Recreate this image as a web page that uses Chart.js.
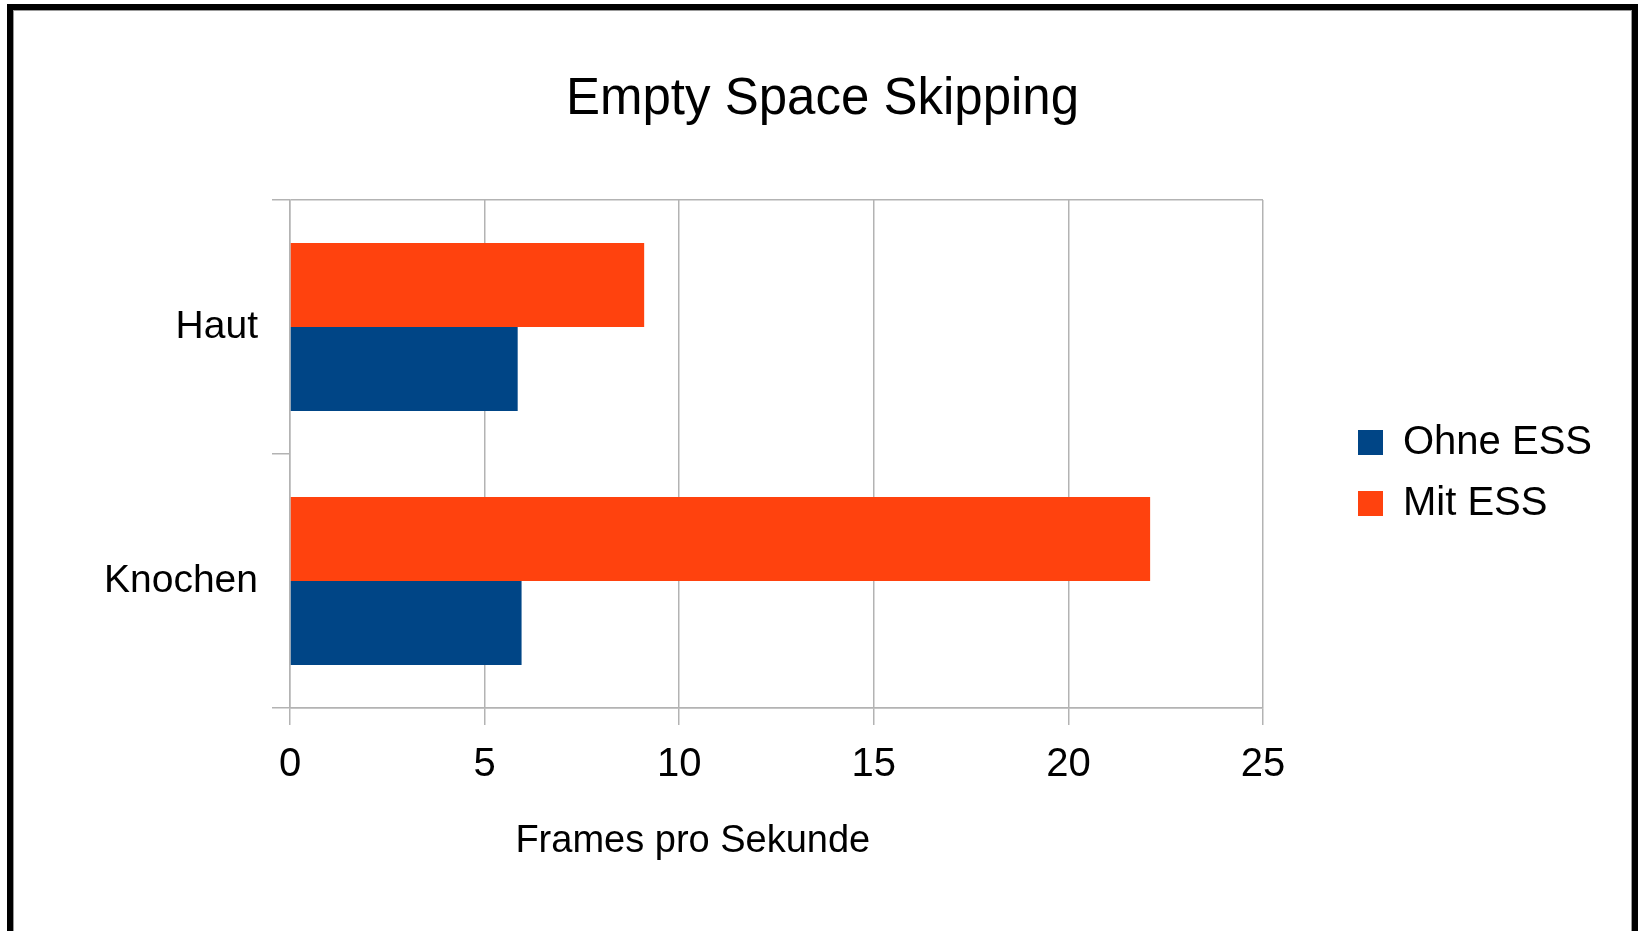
<!DOCTYPE html>
<html>
<head>
<meta charset="utf-8">
<script src="https://cdn.jsdelivr.net/npm/chart.js@4.4.1/dist/chart.umd.min.js"></script>
<style>
html,body{margin:0;padding:0;background:#fff;overflow:hidden}
#wrap{position:absolute;left:0;top:0;width:1638px;height:931px}
#frame{position:absolute;left:7px;top:4px;width:1631px;height:940px;box-sizing:border-box;border:6px solid #000;border-bottom:none;box-shadow:inset 1px 1px 0 #999,inset -1px 0 0 #999;pointer-events:none}
</style>
</head>
<body>
<div id="wrap"><canvas id="chart"></canvas></div>
<div id="frame"></div>
<script>
const categories = ["Haut", "Knochen"];
const ohneEss = [5.85, 5.95];
const mitEss = [9.1, 22.1];
const xTicks = [0, 5, 10, 15, 20, 25];

const FONT = "'Liberation Sans', Arial, sans-serif";
const GRID = "#b3b3b3";

// axis title sits left of the plot centre in the original, so draw it by hand
const axisTitle = {
  id: "axisTitle",
  afterDraw(chart){
    const {ctx, chartArea: a} = chart;
    ctx.save();
    ctx.font = "38px " + FONT;
    ctx.fillStyle = "#000";
    ctx.textAlign = "center";
    ctx.textBaseline = "alphabetic";
    ctx.fillText("Frames pro Sekunde", a.left + a.width * 0.414, a.bottom + 144);
    ctx.restore();
  }
};

// title centred on the whole frame, legend pushed away from the plot
const placeBoxes = {
  id: "placeBoxes",
  afterLayout(chart){
    const t = chart.titleBlock;
    t.left = 7; t.right = chart.width;
    const l = chart.legend, a = chart.chartArea;
    const dx = a.right + 74 - l.left;
    const dy = (a.top + a.bottom) / 2 + 19 - (l.top + l.bottom) / 2;
    l.left += dx; l.right += dx;
    l.top += dy; l.bottom += dy;
  }
};

new Chart(document.getElementById("chart"), {
  type: "bar",
  data: {
    labels: categories,
    datasets: [
      { label: "Mit ESS", data: mitEss, backgroundColor: "#ff420e" },
      { label: "Ohne ESS", data: ohneEss, backgroundColor: "#004586" }
    ]
  },
  options: {
    indexAxis: "y",
    responsive: true,
    maintainAspectRatio: false,
    animation: false,
    categoryPercentage: 0.662,
    barPercentage: 1,
    layout: { padding: { top: 0, left: 0, right: 110, bottom: 0 } },
    plugins: {
      title: {
        display: true,
        text: "Empty Space Skipping",
        color: "#000",
        font: { family: FONT, size: 51, weight: "normal", lineHeight: 1.2 },
        padding: { top: 69, bottom: 69.8 }
      },
      legend: {
        position: "right",
        fullSize: false,
        reverse: true,
        labels: {
          boxWidth: 25, boxHeight: 25, padding: 21,
          color: "#000",
          font: { family: FONT, size: 40 }
        }
      },
      tooltip: { enabled: false }
    },
    scales: {
      x: {
        min: xTicks[0],
        max: xTicks[xTicks.length - 1],
        afterFit: s => { s.height = 223; },
        ticks: { stepSize: xTicks[1] - xTicks[0], color: "#000", padding: 16, font: { family: FONT, size: 40 } },
        grid: { color: GRID, lineWidth: 1.5, tickLength: 17 },
        border: { color: GRID, width: 1.5 }
      },
      y: {
        afterFit: s => { s.width = 290; },
        ticks: { color: "#000", padding: 14, font: { family: FONT, size: 39 } },
        grid: {
          offset: true,
          color: c => (c.index === 1 ? "rgba(0,0,0,0)" : GRID),
          tickColor: GRID,
          lineWidth: 1.5,
          tickLength: 18
        },
        border: { color: GRID, width: 1.5 }
      }
    }
  },
  plugins: [axisTitle, placeBoxes]
});
</script>
</body>
</html>
